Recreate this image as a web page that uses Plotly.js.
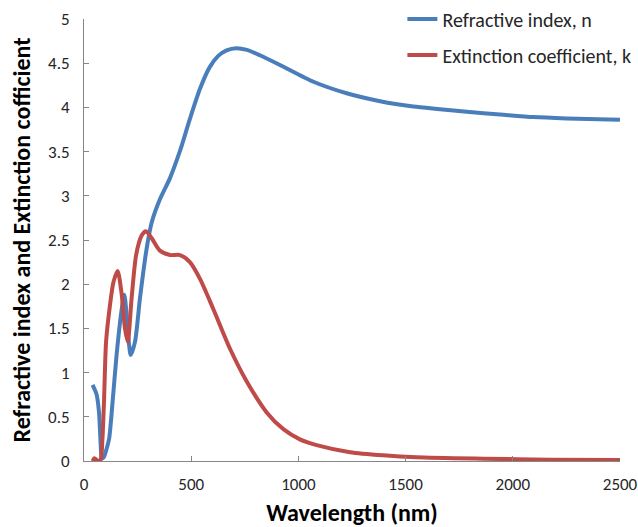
<!DOCTYPE html>
<html>
<head>
<meta charset="utf-8">
<script src="https://cdn.plot.ly/plotly-3.0.1.min.js"></script>
<style>html,body{margin:0;padding:0;background:#fff;}#chart{width:638px;height:527px;}</style>
</head>
<body>
<div id="chart"></div>
<script>
// Refractive index n
const nWavelength = [40, 59, 70, 78, 83, 92, 101, 117, 132, 152, 176, 188, 199, 210, 218, 238, 261, 292, 316, 354, 401, 448, 494, 541, 585, 625, 665, 710, 760, 820, 914, 1070, 1225, 1381, 1536, 1660, 1785, 1940, 2096, 2251, 2500];
const nValues     = [0.86, 0.75, 0.55, 0.18, 0.03, 0.04, 0.10, 0.25, 0.63, 1.20, 1.72, 1.88, 1.65, 1.32, 1.20, 1.35, 1.84, 2.40, 2.70, 2.96, 3.20, 3.51, 3.87, 4.21, 4.45, 4.58, 4.645, 4.67, 4.65, 4.59, 4.48, 4.29, 4.16, 4.07, 4.01, 3.98, 3.95, 3.92, 3.89, 3.875, 3.86];
// Extinction coefficient k
const kWavelength = [40, 47, 55, 66, 78, 85, 93, 103, 121, 137, 157, 176, 191, 204, 222, 243, 269, 289, 316, 354, 401, 448, 494, 541, 603, 681, 759, 852, 930, 1007, 1085, 1241, 1396, 1552, 1862, 2173, 2500];
const kValues     = [0.00, 0.03, 0.02, 0.00, 0.02, 0.20, 0.65, 1.35, 1.76, 2.02, 2.15, 1.88, 1.50, 1.35, 1.84, 2.33, 2.55, 2.60, 2.52, 2.38, 2.33, 2.33, 2.25, 2.06, 1.72, 1.27, 0.90, 0.55, 0.36, 0.245, 0.18, 0.10, 0.064, 0.042, 0.026, 0.015, 0.01];

const seriesNames = ["Refractive index, n", "Extinction coefficient, k"];
const xTickVals = [0, 500, 1000, 1500, 2000, 2500];
const yTickVals = [0, 0.5, 1, 1.5, 2, 2.5, 3, 3.5, 4, 4.5, 5];
const yTickText = ["0", "0.5", "1", "1.5", "2", "2.5", "3", "3.5", "4", "4.5", "5"];

const FONT = "Carlito, Lato, 'Open Sans', sans-serif";

const traces = [
  {x: nWavelength, y: nValues, name: seriesNames[0], type: "scatter", mode: "lines",
   line: {color: "#4a7ebb", width: 4, shape: "spline", smoothing: 0.7}, legendgroup: "n"},
  {x: kWavelength, y: kValues, name: seriesNames[1], type: "scatter", mode: "lines",
   line: {color: "#be4b48", width: 4, shape: "spline", smoothing: 0.7}, legendgroup: "k"}
];

const layout = {
  width: 638, height: 527,
  margin: {l: 84, r: 18, t: 19, b: 66, autoexpand: false},
  paper_bgcolor: "#fff", plot_bgcolor: "#fff",
  font: {family: FONT, size: 17, color: "#262626"},
  showlegend: true,
  legend: {x: 0.594, y: 1.044, xanchor: "left", yanchor: "top", bgcolor: "rgba(0,0,0,0)",
           font: {family: FONT, size: 20, color: "#262626"}, traceorder: "grouped", tracegroupgap: 7},
  xaxis: {range: [0, 2500], tickvals: xTickVals, showgrid: false, zeroline: false,
          showline: true, linecolor: "#868686", linewidth: 1, ticks: "inside", ticklen: 5, tickcolor: "#868686",
          ticklabelstandoff: 8, automargin: false,
          title: {text: "<b>Wavelength (nm)</b>", font: {family: FONT, size: 24, color: "#000"}, standoff: 16}},
  yaxis: {range: [0, 5], tickvals: yTickVals, ticktext: yTickText, showgrid: false, zeroline: false,
          showline: true, linecolor: "#868686", linewidth: 1, ticks: "inside", ticklen: 5, tickcolor: "#868686",
          ticklabelstandoff: 10, automargin: false,
          title: {text: "<b>Refractive index and Extinction cofficient</b>", font: {family: FONT, size: 24, color: "#000"}, standoff: 10}}
};

Plotly.newPlot("chart", traces, layout, {displayModeBar: false, staticPlot: true});
</script>
</body>
</html>
